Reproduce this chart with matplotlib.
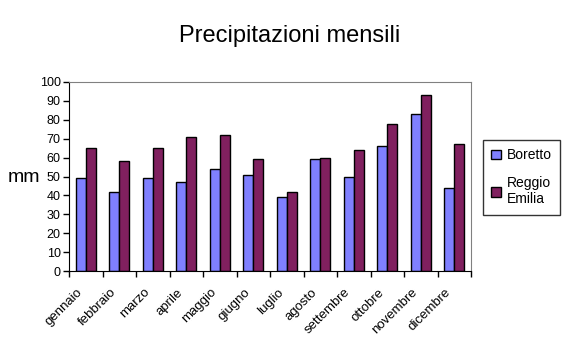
import numpy as np
import matplotlib.pyplot as plt

plt.rcParams['font.family'] = ['Liberation Sans', 'DejaVu Sans']

mesi = ['gennaio', 'febbraio', 'marzo', 'aprile', 'maggio', 'giugno',
        'luglio', 'agosto', 'settembre', 'ottobre', 'novembre', 'dicembre']
boretto = [49.2, 41.8, 49.2, 47.1, 54.1, 50.8, 39.2, 59.4, 49.7, 66.1, 83.2, 44.0]
reggio = [65.1, 58.4, 65.1, 70.9, 72.0, 59.3, 41.8, 59.8, 64.0, 78.0, 93.3, 67.2]

fig = plt.figure(figsize=(5.71, 3.54), dpi=100)
ax = fig.add_axes([69/571, 1 - 271/354, (471 - 69)/571, (271 - 82)/354])

x = np.arange(len(mesi))
w = 0.3
ax.bar(x - w/2, boretto, w, color='#8080FF', edgecolor='black', linewidth=1, label='Boretto')
ax.bar(x + w/2, reggio, w, color='#80205F', edgecolor='black', linewidth=1, label='Reggio\nEmilia')

ax.set_xlim(-0.5, len(mesi) - 0.5)
ax.set_ylim(0, 100)
ax.set_yticks(range(0, 101, 10))
ax.set_xticks(np.arange(-0.5, len(mesi), 1.0))
ax.set_xticklabels([])
# month labels sit slightly left of the group centre, as in the original
ax.set_xticks(x - 0.28, minor=True)
ax.set_xticklabels(mesi, minor=True, rotation=45, ha='right', va='top',
                   rotation_mode='anchor', fontsize=9.5)
ax.tick_params(axis='x', which='minor', length=0, pad=11)
ax.tick_params(axis='x', which='major', length=4, width=1, direction='out')
ax.tick_params(axis='y', length=4, width=1, direction='out', labelsize=9, pad=2)

ax.spines['top'].set_color('#808080')
ax.spines['right'].set_color('#808080')
for s in ['left', 'bottom']:
    ax.spines[s].set_color('black')

fig.text(24/571, 1 - 177/354, 'mm', ha='center', va='center', fontsize=14)
fig.text(290/571, 1 - 42/354, 'Precipitazioni mensili', ha='center', va='baseline', fontsize=17)

leg = fig.legend(loc='upper left', bbox_to_anchor=(483/571, 1 - 140/354), frameon=True,
                 fancybox=False, edgecolor='black', fontsize=10, handlelength=0.7,
                 handleheight=0.7, handletextpad=0.4, labelspacing=1.0, borderpad=0.6,
                 borderaxespad=0)
leg.get_frame().set_linewidth(1)

fig.savefig('out.png', dpi=100)
